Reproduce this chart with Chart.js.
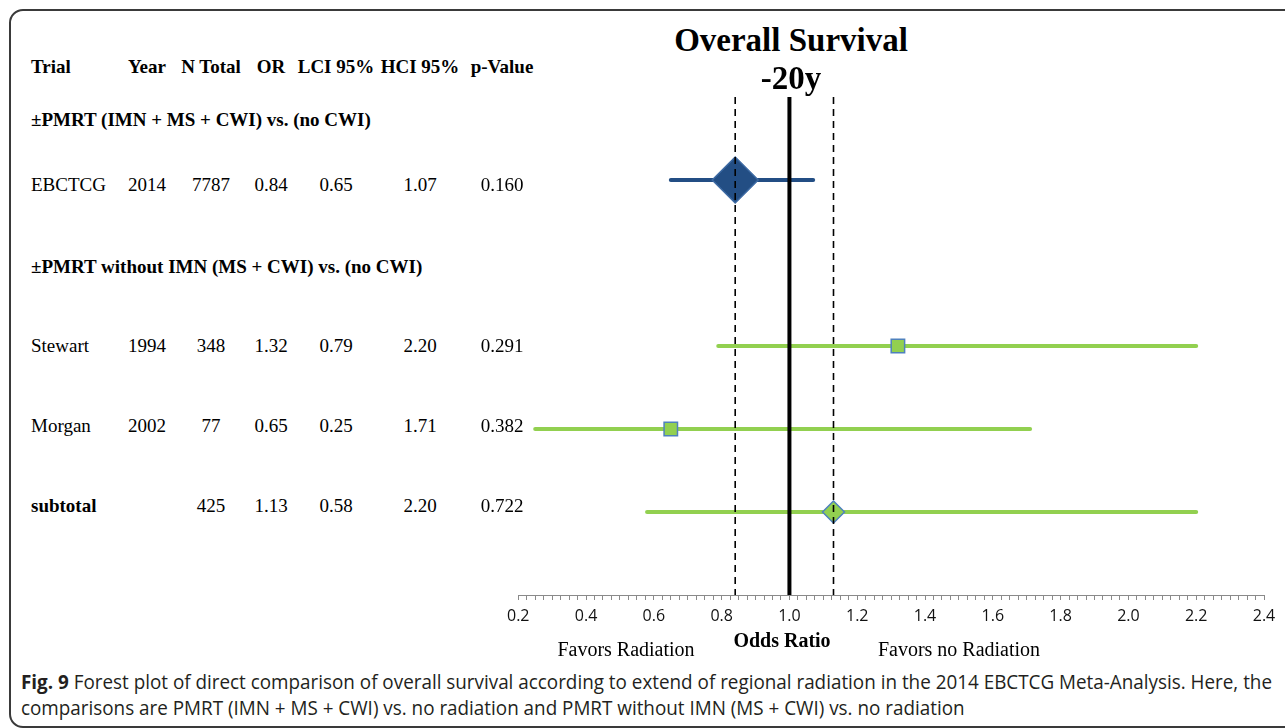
<!DOCTYPE html>
<html>
<head>
<meta charset="utf-8">
<script src="https://cdn.jsdelivr.net/npm/chart.js@4/dist/chart.umd.min.js"></script>
<style>
  html, body { margin: 0; padding: 0; background: #fff; }
  body { width: 1285px; height: 728px; position: relative; overflow: hidden; }
  #frame { position: absolute; left: 9px; top: 9px; width: 1300px; height: 715px;
           border: 2px solid #3a3a3a; border-radius: 14px; }
  .t { position: absolute; font-family: "Liberation Serif", serif; font-size: 19px; line-height: 1;
       white-space: nowrap; color: #000; transform: translate(-50%, -50%); }
  .t.left { transform: translate(0, -50%); }
  .t.b { font-weight: bold; }
  #chartBox { position: absolute; left: 500px; top: 90px; width: 785px; height: 545px; }
  .cap { position: absolute; left: 21px; font-family: "Open Sans", sans-serif; font-size: 19.5px;
         line-height: 1; color: #231f20; white-space: nowrap; transform-origin: 0 50%; }
</style>
</head>
<body>
<div id="frame"></div>
<div id="chartBox"><canvas id="forest"></canvas></div>
<div id="texts"></div>
<div class="cap" id="cap1" style="top:682px"><b>Fig. 9</b> Forest plot of direct comparison of overall survival according to extend of regional radiation in the 2014 EBCTCG Meta-Analysis. Here, the</div>
<div class="cap" id="cap2" style="top:708px">comparisons are PMRT (IMN + MS + CWI) vs. no radiation and PMRT without IMN (MS + CWI) vs. no radiation</div>

<script>
// ---- study data ----
const trials     = ['EBCTCG', 'Stewart', 'Morgan', 'subtotal'];
const years      = ['2014', '1994', '2002', ''];
const nTotal     = ['7787', '348', '77', '425'];
const oddsRatio  = [0.84, 1.32, 0.65, 1.13];
const lowerCI    = [0.65, 0.79, 0.25, 0.58];
const upperCI    = [1.07, 2.20, 1.71, 2.20];
const pValues    = ['0.160', '0.291', '0.382', '0.722'];
// plot row of each study, counted down from the top of the plot (0 = top, 6 = axis)
const plotRow    = [1, 3, 4, 5];

const headers    = ['Trial', 'Year', 'N Total', 'OR', 'LCI 95%', 'HCI 95%', 'p-Value'];
const groupTitles = ['±PMRT (IMN + MS + CWI) vs. (no CWI)', '±PMRT without IMN (MS + CWI) vs. (no CWI)'];
const xTickLabels = ['0.2', '0.4', '0.6', '0.8', '1.0', '1.2', '1.4', '1.6', '1.8', '2.0', '2.2', '2.4'];

// ---- table text on the left ----
const texts = document.getElementById('texts');
function put(str, x, y, cls, size) {
  const d = document.createElement('div');
  d.className = 't ' + (cls || '');
  d.textContent = str;
  d.style.left = x + 'px';
  d.style.top = y + 'px';
  if (size) d.style.fontSize = size + 'px';
  texts.appendChild(d);
  return d;
}
const colX = [31, 147, 211, 271, 336, 420, 502];
const rowY = [184, 345, 425, 505];

headers.forEach((h, i) => put(h, colX[i], 66, i === 0 ? 'left b' : 'b'));
put(groupTitles[0], 31, 119, 'left b');
put(groupTitles[1], 31, 266, 'left b');

trials.forEach((name, i) => {
  const y = rowY[i];
  put(name, 31, y, name === 'subtotal' ? 'left b' : 'left');
  put(years[i], colX[1], y);
  put(nTotal[i], colX[2], y);
  put(oddsRatio[i].toFixed(2), colX[3], y);
  put(lowerCI[i].toFixed(2), colX[4], y);
  put(upperCI[i].toFixed(2), colX[5], y);
  put(pValues[i], colX[6], y);
});

// title and axis captions
put('Overall Survival', 791, 40, 'b', 33);
put('-20y', 791, 78, 'b', 33);
put('Odds Ratio', 782, 640, 'b', 20);
put('Favors Radiation', 626, 649, '', 20);
put('Favors no Radiation', 959, 649, '', 20);

// fit the caption's first line to the frame width
(function () {
  const c1 = document.getElementById('cap1');
  const c2 = document.getElementById('cap2');
  const s = 1251 / c1.getBoundingClientRect().width;
  c1.style.transform = 'translateY(-50%) scaleX(' + s + ')';
  c2.style.transform = 'translateY(-50%) scaleX(' + s + ')';
})();

// ---- forest plot ----
const BLUE = '#234E84';
const GREEN = '#92D050';
const EDGE = '#4F81BD';
const TOP = 0, BASE = 6;

const datasets = [];

// dashed lines through the overall and subtotal estimates
[oddsRatio[0], oddsRatio[3]].forEach(v => datasets.push({
  type: 'line', data: [{ x: v, y: TOP }, { x: v, y: BASE }],
  borderColor: '#000', borderWidth: 1.6, borderDash: [7, 5], pointRadius: 0
}));
// line of no effect
datasets.push({
  type: 'line', data: [{ x: 1, y: TOP }, { x: 1, y: BASE }],
  borderColor: '#000', borderWidth: 4, pointRadius: 0
});

// point estimates
trials.forEach((name, i) => {
  const isPooled = i === 0 || name === 'subtotal';
  datasets.push({
    type: 'scatter', data: [{ x: oddsRatio[i], y: plotRow[i] }],
    pointStyle: isPooled ? 'rectRot' : 'rect',
    pointRadius: i === 0 ? 23 : (isPooled ? 11 : 9.5),
    backgroundColor: i === 0 ? BLUE : GREEN,
    borderColor: i === 0 ? '#3D6AA3' : EDGE,
    borderWidth: 1.5
  });
});

// confidence intervals
trials.forEach((name, i) => {
  datasets.push({
    type: 'line', data: [{ x: lowerCI[i], y: plotRow[i] }, { x: upperCI[i], y: plotRow[i] }],
    borderColor: i === 0 ? BLUE : GREEN, borderWidth: 4, borderCapStyle: 'round', pointRadius: 0
  });
});

new Chart(document.getElementById('forest'), {
  data: { datasets },
  options: {
    responsive: true,
    maintainAspectRatio: false,
    animation: false,
    layout: { autoPadding: false, padding: { left: 16, right: 21, top: 7, bottom: 0 } },
    plugins: { legend: { display: false }, tooltip: { enabled: false }, title: { display: false } },
    scales: {
      x: {
        type: 'linear', min: 0.2, max: 2.4,
        afterFit: s => { s.height = 40; },
        border: { display: true, color: '#8a8a8a', width: 1 },
        grid: { display: true, drawOnChartArea: false, drawTicks: true, tickLength: 5, color: '#8a8a8a', lineWidth: 1 },
        ticks: {
          stepSize: 0.025, maxTicksLimit: 200, autoSkip: false, maxRotation: 0, padding: 7,
          color: '#111', font: { family: 'Open Sans', size: 16 },
          callback: v => {
            const lab = xTickLabels.find(t => Math.abs(parseFloat(t) - v) < 1e-6);
            return lab === undefined ? '' : lab;
          }
        }
      },
      y: { type: 'linear', min: TOP, max: BASE, reverse: true, display: false }
    }
  }
});
</script>
</body>
</html>
